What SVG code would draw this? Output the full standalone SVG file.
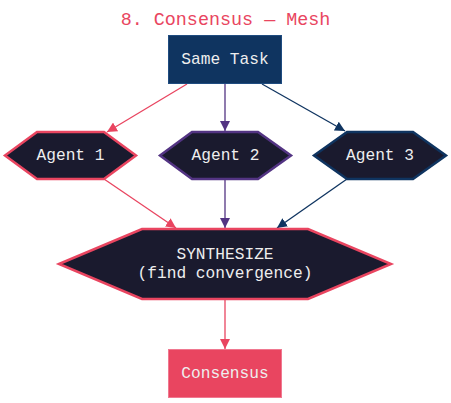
<svg xmlns="http://www.w3.org/2000/svg" width="451" height="403" viewBox="0 0 451 403">
<defs>
<style>
text{font-family:"Liberation Mono","DejaVu Sans Mono",monospace;text-anchor:middle;dominant-baseline:central}
.lbl{fill:#eeeeee;font-size:16.2px}
.hex{fill:#1a1a2e;stroke-width:2.5;stroke-linejoin:miter}
.e{fill:none;stroke-width:1.3}
</style>
<marker id="mr" viewBox="0 0 10 10" refX="10" refY="5" markerWidth="10" markerHeight="10" markerUnits="userSpaceOnUse" orient="auto"><path d="M0,0L10,5L0,10z" fill="#e94560"/></marker>
<marker id="mp" viewBox="0 0 10 10" refX="10" refY="5" markerWidth="10" markerHeight="10" markerUnits="userSpaceOnUse" orient="auto"><path d="M0,0L10,5L0,10z" fill="#533483"/></marker>
<marker id="mb" viewBox="0 0 10 10" refX="10" refY="5" markerWidth="10" markerHeight="10" markerUnits="userSpaceOnUse" orient="auto"><path d="M0,0L10,5L0,10z" fill="#0f3460"/></marker>
</defs>
<rect width="451" height="403" fill="#ffffff"/>
<text x="225.5" y="20" fill="#e94560" font-size="18.4">8. Consensus — Mesh</text>
<g id="connectors">
<path class="e" stroke="#e94560" d="M187,84L107,132" marker-end="url(#mr)"/>
<path class="e" stroke="#533483" d="M225,84L225,131" marker-end="url(#mp)"/>
<path class="e" stroke="#0f3460" d="M262,84L345,131" marker-end="url(#mb)"/>
<path class="e" stroke="#e94560" d="M104,179L176,228" marker-end="url(#mr)"/>
<path class="e" stroke="#533483" d="M225,180L225,228" marker-end="url(#mp)"/>
<path class="e" stroke="#0f3460" d="M347,179L277,228" marker-end="url(#mb)"/>
<path class="e" stroke="#e94560" d="M225,300L225,349" marker-end="url(#mr)"/>
</g>
<g id="same-task">
<rect x="168.5" y="35.5" width="113" height="48" fill="#0f3460" stroke="#1f4c80" stroke-width="1"/>
<text class="lbl" x="225" y="59.5">Same Task</text>
</g>
<g id="agent1">
<polygon class="hex" stroke="#e94560" points="5,155.5 37,132 104,132 136,155.5 104,179 37,179"/>
<text class="lbl" x="70.5" y="155.5">Agent 1</text>
</g>
<g id="agent2">
<polygon class="hex" stroke="#533483" points="160,155.5 192,132 258,132 291,155.5 258,179 192,179"/>
<text class="lbl" x="225.5" y="155.5">Agent 2</text>
</g>
<g id="agent3">
<polygon class="hex" stroke="#0f3460" points="314,155.5 347,132 413,132 446,155.5 413,179 347,179"/>
<text class="lbl" x="380" y="155.5">Agent 3</text>
</g>
<g id="synthesize">
<polygon class="hex" stroke="#e94560" points="59,264 142,229 308,229 391,264 308,299 142,299"/>
<text class="lbl" x="225" y="255">SYNTHESIZE</text>
<text class="lbl" x="225" y="273.5">(find convergence)</text>
</g>
<g id="consensus">
<rect x="168.5" y="349.5" width="113" height="48" fill="#e94560" stroke="#f07890" stroke-width="1"/>
<text class="lbl" x="225" y="373.5">Consensus</text>
</g>
</svg>
